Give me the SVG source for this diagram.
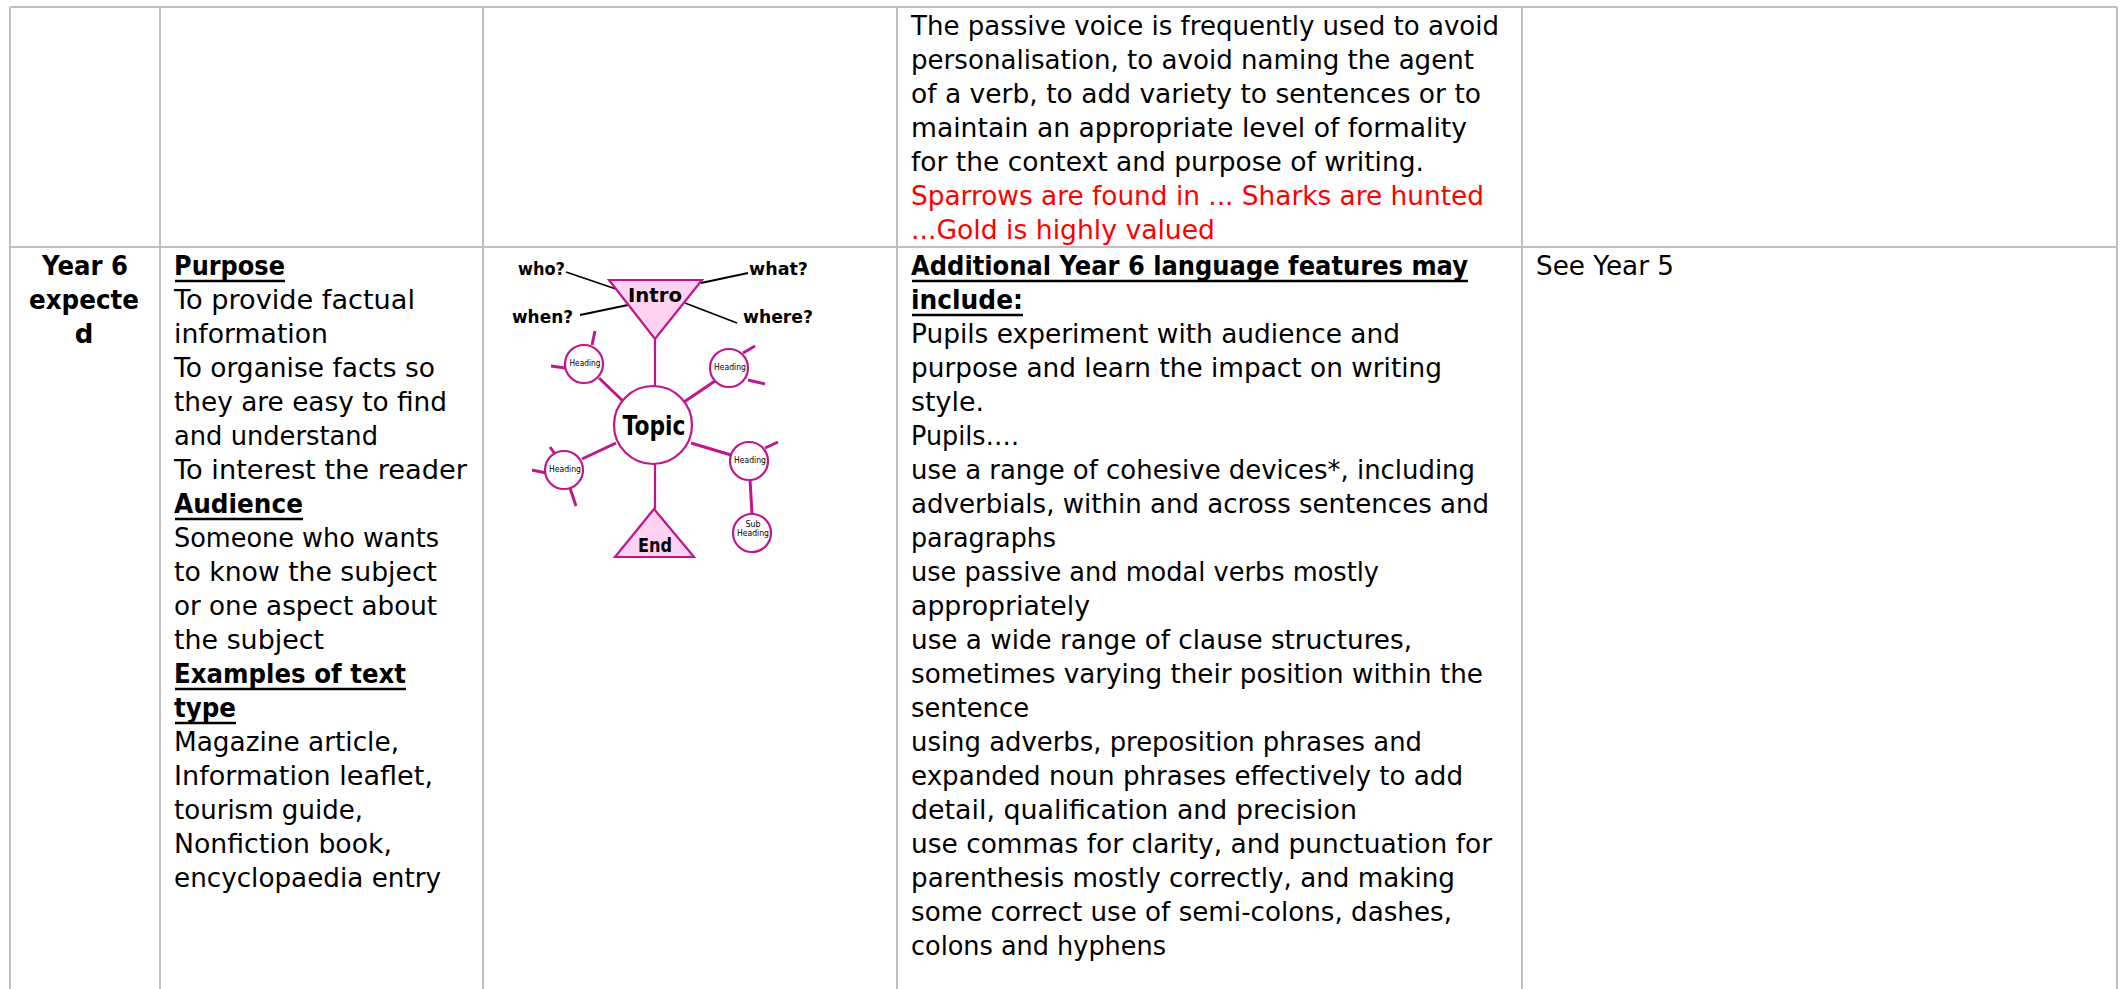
<svg xmlns="http://www.w3.org/2000/svg" width="2123" height="989" viewBox="0 0 2123 989">
<style>
.t{font-family:"DejaVu Sans","Liberation Sans",sans-serif;font-size:26px;fill:#000}
.b{font-weight:bold}
.r{fill:#ff0000}
.c{text-anchor:middle}
.grid{stroke:#c0c0c0;stroke-width:2;fill:none}
.ul{stroke:#000;stroke-width:2.5}
.m{stroke:#c0168c;stroke-width:2.2;fill:none}
.mt{stroke:#c0168c;stroke-width:3;fill:none}
.k{stroke:#000;stroke-width:1.8}
.tri{fill:#ffd2f2;stroke:#c0168c;stroke-width:2.2}
.cir{fill:#fff;stroke:#c0168c;stroke-width:2.2}
.d{font-family:"DejaVu Sans","Liberation Sans",sans-serif;font-weight:bold;fill:#000}
.h{font-family:"DejaVu Sans","Liberation Sans",sans-serif;font-size:8px;fill:#000;text-anchor:middle}
</style>
<rect width="2123" height="989" fill="#fff"/>
<g id="grid">
<line class="grid" x1="10" y1="7" x2="2117" y2="7"/>
<line class="grid" x1="10" y1="247" x2="2117" y2="247"/>
<line class="grid" x1="10" y1="7" x2="10" y2="989"/>
<line class="grid" x1="160" y1="7" x2="160" y2="989"/>
<line class="grid" x1="483" y1="7" x2="483" y2="989"/>
<line class="grid" x1="897" y1="7" x2="897" y2="989"/>
<line class="grid" x1="1522" y1="7" x2="1522" y2="989"/>
<line class="grid" x1="2117" y1="7" x2="2117" y2="989"/>
</g>
<g id="cell-passive">
<text class="t" x="911" y="35" textLength="588" lengthAdjust="spacingAndGlyphs">The passive voice is frequently used to avoid</text>
<text class="t" x="911" y="69" textLength="563" lengthAdjust="spacingAndGlyphs">personalisation, to avoid naming the agent</text>
<text class="t" x="911" y="103" textLength="570" lengthAdjust="spacingAndGlyphs">of a verb, to add variety to sentences or to</text>
<text class="t" x="911" y="137" textLength="556" lengthAdjust="spacingAndGlyphs">maintain an appropriate level of formality</text>
<text class="t" x="911" y="171" textLength="513" lengthAdjust="spacingAndGlyphs">for the context and purpose of writing.</text>
<text class="t r" x="911" y="205" textLength="573" lengthAdjust="spacingAndGlyphs">Sparrows are found in ... Sharks are hunted</text>
<text class="t r" x="911" y="239" textLength="304" lengthAdjust="spacingAndGlyphs">...Gold is highly valued</text>
</g>
<g id="cell-year6">
<text class="t b c" x="85" y="275" textLength="86" lengthAdjust="spacingAndGlyphs">Year 6</text>
<text class="t b c" x="84" y="309" textLength="110" lengthAdjust="spacingAndGlyphs">expecte</text>
<text class="t b c" x="84" y="343">d</text>
</g>
<g id="cell-purpose">
<text class="t b" x="174" y="275" textLength="111" lengthAdjust="spacingAndGlyphs">Purpose</text>
<line class="ul" x1="175" y1="281" x2="285" y2="281"/>
<text class="t" x="174" y="309" textLength="241" lengthAdjust="spacingAndGlyphs">To provide factual</text>
<text class="t" x="174" y="343" textLength="154" lengthAdjust="spacingAndGlyphs">information</text>
<text class="t" x="174" y="377" textLength="261" lengthAdjust="spacingAndGlyphs">To organise facts so</text>
<text class="t" x="174" y="411" textLength="273" lengthAdjust="spacingAndGlyphs">they are easy to find</text>
<text class="t" x="174" y="445" textLength="204" lengthAdjust="spacingAndGlyphs">and understand</text>
<text class="t" x="174" y="479" textLength="293" lengthAdjust="spacingAndGlyphs">To interest the reader</text>
<text class="t b" x="174" y="513" textLength="129" lengthAdjust="spacingAndGlyphs">Audience</text>
<line class="ul" x1="175" y1="519" x2="303" y2="519"/>
<text class="t" x="174" y="547" textLength="265" lengthAdjust="spacingAndGlyphs">Someone who wants</text>
<text class="t" x="174" y="581" textLength="263" lengthAdjust="spacingAndGlyphs">to know the subject</text>
<text class="t" x="174" y="615" textLength="263" lengthAdjust="spacingAndGlyphs">or one aspect about</text>
<text class="t" x="174" y="649" textLength="150" lengthAdjust="spacingAndGlyphs">the subject</text>
<text class="t b" x="174" y="683" textLength="232" lengthAdjust="spacingAndGlyphs">Examples of text</text>
<line class="ul" x1="175" y1="689" x2="406" y2="689"/>
<text class="t b" x="174" y="717" textLength="62" lengthAdjust="spacingAndGlyphs">type</text>
<line class="ul" x1="175" y1="723" x2="236" y2="723"/>
<text class="t" x="174" y="751" textLength="225" lengthAdjust="spacingAndGlyphs">Magazine article,</text>
<text class="t" x="174" y="785" textLength="259" lengthAdjust="spacingAndGlyphs">Information leaflet,</text>
<text class="t" x="174" y="819" textLength="189" lengthAdjust="spacingAndGlyphs">tourism guide,</text>
<text class="t" x="174" y="853" textLength="218" lengthAdjust="spacingAndGlyphs">Nonfiction book,</text>
<text class="t" x="174" y="887" textLength="267" lengthAdjust="spacingAndGlyphs">encyclopaedia entry</text>
</g>
<g id="diagram">
<g id="connectors">
<line class="k" x1="566" y1="272" x2="616" y2="289"/>
<line class="k" x1="701" y1="283" x2="748" y2="273"/>
<line class="k" x1="580" y1="315" x2="628" y2="305"/>
<line class="k" x1="685" y1="303" x2="737" y2="323"/>
<line class="m" x1="655" y1="339" x2="655" y2="387"/>
<line class="m" x1="655" y1="464" x2="655" y2="509"/>
<line class="mt" x1="599" y1="378" x2="625" y2="403"/>
<line class="mt" x1="592" y1="345" x2="595" y2="331"/>
<line class="mt" x1="565" y1="368" x2="551" y2="366"/>
<line class="mt" x1="684" y1="402" x2="715" y2="381"/>
<line class="mt" x1="743" y1="353" x2="755" y2="346"/>
<line class="mt" x1="748" y1="380" x2="765" y2="384"/>
<line class="mt" x1="582" y1="459" x2="616" y2="443"/>
<line class="mt" x1="550" y1="447" x2="555" y2="454"/>
<line class="mt" x1="546" y1="473" x2="532" y2="470"/>
<line class="mt" x1="570" y1="488" x2="576" y2="506"/>
<line class="mt" x1="691" y1="443" x2="731" y2="455"/>
<line class="mt" x1="765" y1="448" x2="778" y2="442"/>
<line class="mt" x1="750" y1="479" x2="752" y2="514"/>
</g>
<g id="q-who"><text class="d" x="518" y="275" font-size="18" textLength="47" lengthAdjust="spacingAndGlyphs">who?</text></g>
<g id="q-what"><text class="d" x="749" y="275" font-size="18" textLength="59" lengthAdjust="spacingAndGlyphs">what?</text></g>
<g id="q-when"><text class="d" x="512" y="323" font-size="18" textLength="61" lengthAdjust="spacingAndGlyphs">when?</text></g>
<g id="q-where"><text class="d" x="743" y="323" font-size="18" textLength="70" lengthAdjust="spacingAndGlyphs">where?</text></g>
<g id="intro">
<polygon class="tri" points="609,280 702,280 655,339"/>
<text class="d c" x="655" y="302" font-size="20" textLength="54" lengthAdjust="spacingAndGlyphs">Intro</text>
</g>
<g id="topic">
<circle class="cir" cx="653" cy="425" r="39"/>
<text class="d c" x="654" y="435" font-size="26" textLength="63" lengthAdjust="spacingAndGlyphs">Topic</text>
</g>
<g id="end">
<polygon class="tri" points="654,509 615,557 694,557"/>
<text class="d c" x="655" y="552" font-size="20" textLength="34" lengthAdjust="spacingAndGlyphs">End</text>
</g>
<g id="heading-1"><circle class="cir" cx="584" cy="364" r="19"/><text class="h" x="585" y="366" textLength="31" lengthAdjust="spacingAndGlyphs">Heading</text></g>
<g id="heading-2"><circle class="cir" cx="729" cy="368" r="19"/><text class="h" x="730" y="370" textLength="32" lengthAdjust="spacingAndGlyphs">Heading</text></g>
<g id="heading-3"><circle class="cir" cx="564" cy="470" r="19"/><text class="h" x="565" y="472" textLength="32" lengthAdjust="spacingAndGlyphs">Heading</text></g>
<g id="heading-4"><circle class="cir" cx="749" cy="461" r="19"/><text class="h" x="750" y="463" textLength="32" lengthAdjust="spacingAndGlyphs">Heading</text></g>
<g id="subheading"><circle class="cir" cx="752" cy="533" r="19"/><text class="h" x="753" y="527">Sub</text><text class="h" x="753" y="536" textLength="32" lengthAdjust="spacingAndGlyphs">Heading</text></g>
</g>
<g id="cell-features">
<text class="t b" x="911" y="275" textLength="557" lengthAdjust="spacingAndGlyphs">Additional Year 6 language features may</text>
<line class="ul" x1="912" y1="281" x2="1468" y2="281"/>
<text class="t b" x="911" y="309" textLength="112" lengthAdjust="spacingAndGlyphs">include:</text>
<line class="ul" x1="912" y1="315" x2="1023" y2="315"/>
<text class="t" x="911" y="343" textLength="489" lengthAdjust="spacingAndGlyphs">Pupils experiment with audience and</text>
<text class="t" x="911" y="377" textLength="531" lengthAdjust="spacingAndGlyphs">purpose and learn the impact on writing</text>
<text class="t" x="911" y="411" textLength="73" lengthAdjust="spacingAndGlyphs">style.</text>
<text class="t" x="911" y="445" textLength="108" lengthAdjust="spacingAndGlyphs">Pupils….</text>
<text class="t" x="911" y="479" textLength="564" lengthAdjust="spacingAndGlyphs">use a range of cohesive devices*, including</text>
<text class="t" x="911" y="513" textLength="578" lengthAdjust="spacingAndGlyphs">adverbials, within and across sentences and</text>
<text class="t" x="911" y="547" textLength="145" lengthAdjust="spacingAndGlyphs">paragraphs</text>
<text class="t" x="911" y="581" textLength="468" lengthAdjust="spacingAndGlyphs">use passive and modal verbs mostly</text>
<text class="t" x="911" y="615" textLength="179" lengthAdjust="spacingAndGlyphs">appropriately</text>
<text class="t" x="911" y="649" textLength="501" lengthAdjust="spacingAndGlyphs">use a wide range of clause structures,</text>
<text class="t" x="911" y="683" textLength="572" lengthAdjust="spacingAndGlyphs">sometimes varying their position within the</text>
<text class="t" x="911" y="717" textLength="118" lengthAdjust="spacingAndGlyphs">sentence</text>
<text class="t" x="911" y="751" textLength="511" lengthAdjust="spacingAndGlyphs">using adverbs, preposition phrases and</text>
<text class="t" x="911" y="785" textLength="552" lengthAdjust="spacingAndGlyphs">expanded noun phrases effectively to add</text>
<text class="t" x="911" y="819" textLength="446" lengthAdjust="spacingAndGlyphs">detail, qualification and precision</text>
<text class="t" x="911" y="853" textLength="581" lengthAdjust="spacingAndGlyphs">use commas for clarity, and punctuation for</text>
<text class="t" x="911" y="887" textLength="544" lengthAdjust="spacingAndGlyphs">parenthesis mostly correctly, and making</text>
<text class="t" x="911" y="921" textLength="541" lengthAdjust="spacingAndGlyphs">some correct use of semi-colons, dashes,</text>
<text class="t" x="911" y="955" textLength="255" lengthAdjust="spacingAndGlyphs">colons and hyphens</text>
</g>
<g id="cell-see">
<text class="t" x="1536" y="275" textLength="138" lengthAdjust="spacingAndGlyphs">See Year 5</text>
</g>
</svg>
